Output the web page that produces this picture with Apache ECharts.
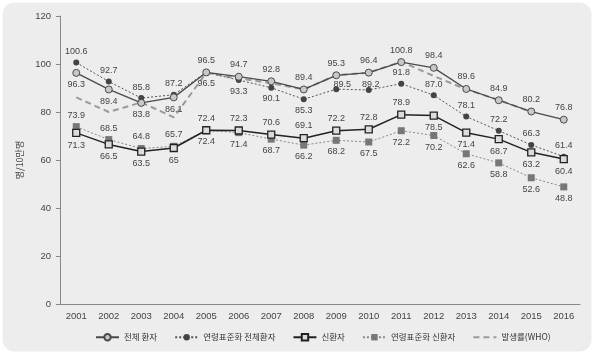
<!DOCTYPE html>
<html><head><meta charset="utf-8">
<script src="https://cdn.jsdelivr.net/npm/echarts@6/dist/echarts.min.js"></script>
<style>html,body{margin:0;padding:0;background:#fff}#c{width:600px;height:356px}</style>
</head><body><div id="c"></div>
<script>
const years = ['2001','2002','2003','2004','2005','2006','2007','2008','2009','2010','2011','2012','2013','2014','2015','2016'];
const totalPatients = [96.3, 89.4, 83.8, 86.1, 96.5, 94.7, 92.8, 89.4, 95.3, 96.4, 100.8, 98.4, 89.6, 84.9, 80.2, 76.8];
const ageStdTotal = [100.6, 92.7, 85.8, 87.2, 96.5, 93.3, 90.1, 85.3, 89.5, 89.2, 91.8, 87.0, 78.1, 72.2, 66.3, 61.4];
const newPatients = [71.3, 66.5, 63.5, 65, 72.4, 72.3, 70.6, 69.1, 72.2, 72.8, 78.9, 78.5, 71.4, 68.7, 63.2, 60.4];
const ageStdNew = [73.9, 68.5, 64.8, 65.7, 72.4, 71.4, 68.7, 66.2, 68.2, 67.5, 72.2, 70.2, 62.6, 58.8, 52.6, 48.8];
const whoRate = [86.1, 80.0, 84.0, 77.8, 96.3, 94.0, 92.0, 89.4, 95.3, 96.4, 101.0, 95.0, 89.4, 85.0, 80.0, null];
const seriesNames = ['전체 환자', '연령표준화 전체환자', '신환자', '연령표준화 신환자', '발생률(WHO)'];
const yName = '명/10만명';

// label placement (style only)
const T = 'top', B = 'bottom';
const posTotal = [B,B,B,B,T,T,T,T,T,T,T,T,T,T,T,T];
const posAgeTotal = [T,T,T,T,B,B,B,B,T,T,T,T,T,T,T,T];
const posNew = [B,B,B,B,T,T,T,T,T,T,T,B,B,B,B,B];
const posAgeNew = [T,T,T,T,B,B,B,B,B,B,B,B,B,B,B,B];
const shiftAgeTotal = {8: [6, 6], 9: [2, 6]};

const FONT = "'Liberation Sans Narrow', 'Arial Narrow', 'Liberation Sans', 'Noto Sans CJK KR', sans-serif";
const KFONT = "'Noto Sans CJK KR', sans-serif";

function mk(vals, pos, shifts) {
  return vals.map((v, i) => {
    const lab = {position: pos[i]};
    if (shifts && shifts[i]) lab.offset = shifts[i];
    return {value: v, label: lab};
  });
}
const baseLabel = {show: true, distance: 3, fontSize: 9, color: '#444', fontFamily: FONT, lineHeight: 10};

const chart = echarts.init(document.getElementById('c'), null, {renderer: 'canvas'});
chart.setOption({
  animation: false,
  backgroundColor: '#fff',
  graphic: [{
    type: 'rect', z: -10, silent: true,
    shape: {x: 2.5, y: 2.5, width: 589, height: 349, r: 12},
    style: {fill: '#ededed'}
  }],
  grid: {left: 60, right: 20, top: 16, bottom: 52},
  legend: {
    top: 328, left: 90,
    itemWidth: 23, itemHeight: 8, itemGap: 17,
    textStyle: {fontSize: 8.5, color: '#333', fontFamily: KFONT},
    data: seriesNames
  },
  xAxis: {
    type: 'category', data: years, boundaryGap: true,
    axisLine: {lineStyle: {color: '#888', width: 1}},
    axisTick: {length: 3, lineStyle: {color: '#888'}},
    axisLabel: {fontSize: 9.5, color: '#444', margin: 8, fontFamily: FONT}
  },
  yAxis: {
    type: 'value', min: 0, max: 120, interval: 20,
    name: yName, nameLocation: 'middle', nameGap: 33, nameRotate: 90,
    nameTextStyle: {fontSize: 9, color: '#444', fontFamily: KFONT},
    axisLine: {show: true, lineStyle: {color: '#888', width: 1}},
    axisTick: {show: true, length: 4, lineStyle: {color: '#888'}},
    axisLabel: {fontSize: 9.5, color: '#444', margin: 9, fontFamily: FONT},
    splitLine: {show: false}
  },
  series: [
    {
      name: seriesNames[4], type: 'line', data: whoRate, symbol: 'none', z: 1,
      lineStyle: {color: '#9a9a9a', width: 2, type: [6, 4]},
      itemStyle: {color: 'rgba(0,0,0,0)', borderWidth: 0}
    },
    {
      name: seriesNames[0], type: 'line', data: mk(totalPatients, posTotal), z: 3,
      symbol: 'circle', symbolSize: 7,
      lineStyle: {color: '#4a4a4a', width: 1.3},
      itemStyle: {color: '#c8c8c8', borderColor: '#4a4a4a', borderWidth: 1},
      label: Object.assign({}, baseLabel)
    },
    {
      name: seriesNames[1], type: 'line', data: mk(ageStdTotal, posAgeTotal, shiftAgeTotal), z: 2,
      symbol: 'circle', symbolSize: 6,
      lineStyle: {color: '#555', width: 1, type: [2, 2]},
      itemStyle: {color: '#444'},
      label: Object.assign({}, baseLabel, {formatter: p => p.value.toFixed(1)})
    },
    {
      name: seriesNames[2], type: 'line', data: mk(newPatients, posNew), z: 3,
      symbol: 'rect', symbolSize: 7,
      lineStyle: {color: '#222', width: 1.5},
      itemStyle: {color: '#dcdcdc', borderColor: '#222', borderWidth: 1.3},
      label: Object.assign({}, baseLabel)
    },
    {
      name: seriesNames[3], type: 'line', data: mk(ageStdNew, posAgeNew), z: 2,
      symbol: 'rect', symbolSize: 7,
      lineStyle: {color: '#888', width: 1, type: [2, 2]},
      itemStyle: {color: '#777'},
      label: Object.assign({}, baseLabel)
    }
  ]
});
</script></body></html>
